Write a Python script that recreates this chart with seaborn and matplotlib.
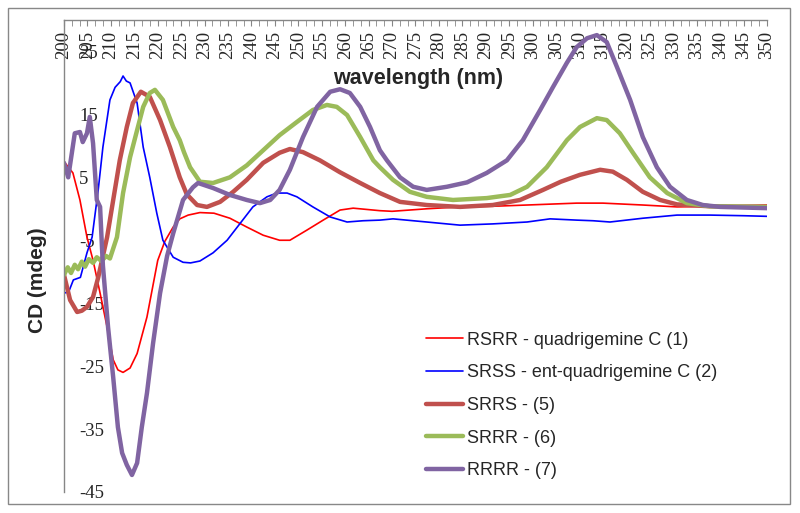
import matplotlib
matplotlib.use('Agg')
import matplotlib.pyplot as plt
import seaborn as sns
import pandas as pd
from matplotlib.ticker import MultipleLocator
from matplotlib.patches import Rectangle

# values, wavelength (nm) / CD (mdeg)
wl_1 = [200, 201.9, 203.4, 204.9, 206.2, 207.7, 209.2, 210.5, 211.5, 212.6, 214.1, 215.6, 217.7,
        220, 221.5, 223.3, 224.7, 226.5, 229, 232, 235.4, 239, 242.5, 246, 248.2, 251.8, 255.3,
        258.9, 261.7, 267.4, 270, 277.4, 284.5, 291.5, 298.8, 309.4, 315, 323.5, 330.8, 340, 350]
cd_1 = [7.5, 5.7, 1.4, -4.5, -8.2, -13.4, -18.8, -24, -25.6, -26, -25.3, -23, -17.2,
        -8.2, -5.2, -2.9, -1.6, -1.0, -0.6, -0.7, -1.5, -2.9, -4.2, -5.0, -5.0, -3.4, -1.8,
        -0.2, 0.1, -0.3, -0.4, 0, 0.3, 0.4, 0.6, 0.9, 0.9, 0.6, 0.3, 0.4, 0.6]

wl_2 = [200, 201, 202, 203.5, 204.9, 206, 207.3, 208.3, 209.8, 210.9, 212, 212.6, 213.3, 214.1,
        215.6, 216.9, 218.3, 219.8, 221.1, 223.3, 225.4, 227, 229, 231.8, 234.8, 237.6, 240.3,
        243.3, 245.4, 247.6, 249.7, 253.1, 256.8, 260.4, 263.8, 267.4, 270.2, 277.4, 284.5,
        291.5, 298.8, 303.7, 309.4, 312.9, 316.5, 323.5, 330.8, 337.8, 345, 350]
cd_2 = [-13.4, -13.2, -11.3, -10.9, -7, -4.5, 3, 9.8, 17.3, 19.3, 20.2, 21.1, 20.3, 20.0,
        16.8, 9.8, 5.0, -0.7, -5, -7.7, -8.5, -8.6, -8.3, -7, -5, -2.3, 0.3,
        1.9, 2.5, 2.5, 1.9, 0.3, -1.3, -2.1, -1.9, -1.8, -1.6, -2.1, -2.6,
        -2.4, -2.1, -1.6, -1.8, -1.9, -2.1, -1.5, -1.0, -1.0, -1.1, -1.2]

wl_5 = [200, 201.3, 202.8, 203.8, 204.9, 206.2, 207.3, 209.2, 210.5, 211.9, 213.4, 214.7, 216.4,
        218.3, 220.5, 222.6, 224.7, 226.2, 228.4, 230.5, 233.3, 236.1, 239, 242.5, 246, 248.2,
        251, 254.6, 258.9, 263.2, 267.4, 271.7, 277.4, 284.5, 291.5, 297.3, 302.2, 306, 310.1,
        314.4, 317.1, 320.1, 323.5, 327.2, 330.8, 337.8, 350]
cd_5 = [-10.5, -14.5, -16.4, -16.2, -15.6, -14, -10.9, -4.5, 1.4, 7.7, 13, 16.8, 18.6,
        17.8, 14.1, 9.8, 5.0, 2.3, 0.6, 0.3, 1.1, 2.7, 4.6, 7.3, 8.9, 9.5,
        9.0, 7.7, 5.8, 4.1, 2.5, 1.1, 0.6, 0.3, 0.6, 1.4, 3.0, 4.3, 5.4,
        6.2, 5.9, 4.6, 2.7, 1.4, 0.7, 0.4, 0.3]

wl_6 = [200, 200.8, 201.5, 202.3, 203, 203.8, 204.5, 205.3, 206.2, 207, 208, 209, 209.8, 211.3,
        212.6, 214.1, 215.6, 216.9, 218.3, 219.4, 221.1, 223.3, 224.7, 225.6, 226.9, 229, 231.8,
        235.4, 239, 242.5, 246, 249.7, 253.1, 256.1, 258.2, 260.4, 263.2, 266, 267.4, 270.2,
        273.8, 277.4, 283, 290.2, 295.2, 298.8, 303, 307.3, 310.1, 313.7, 315.8, 318.6, 321.4,
        325, 328.7, 332.9, 337.8, 350]
cd_6 = [-10.5, -9.3, -10.2, -8.9, -9.6, -8.4, -9.2, -8.0, -8.6, -7.7, -8.3, -7.5, -7.9, -4.5,
        2.5, 8.2, 12.5, 16.2, 18.4, 18.9, 17.3, 13, 10.9, 9.0, 6.6, 4.3, 4.1,
        5.0, 6.9, 9.3, 11.7, 13.8, 15.7, 16.5, 16.2, 14.9, 11.4, 7.7, 6.6, 4.6,
        2.7, 1.9, 1.4, 1.7, 2.2, 3.5, 6.6, 10.9, 13, 14.4, 14.1, 12, 8.9,
        5.0, 2.5, 0.9, 0.4, 0.3]

wl_7 = [200, 200.9, 202.3, 203.4, 204, 204.9, 205.5, 206.2, 207, 207.7, 208.1, 208.3, 209.4,
        210.5, 211.5, 212.4, 213.4, 214.5, 215.6, 216.6, 217.7, 219, 220.5, 222, 223.3, 225.4,
        227.5, 228.6, 231.8, 235.4, 239, 241.8, 244, 246, 248.2, 251, 254, 256.8, 258.9, 261,
        263.2, 265.3, 267.4, 268.9, 271.7, 274.5, 277.4, 281.7, 286, 290.2, 294.5, 297.9, 301.6,
        304.3, 307.3, 309.4, 311.6, 313.7, 315.8, 318, 320.8, 323.5, 326.5, 329.3, 332.9, 336.3,
        340, 350]
cd_7 = [7.3, 5.0, 12, 12.2, 10.6, 12, 14.6, 10.4, 1.4, 0.3, -6.1, -9, -18.8,
        -26.8, -34.7, -38.8, -40.7, -42.3, -40.4, -34.7, -29.3, -21.4, -13.4, -7.5, -3.9, 1.4,
        3.4, 4.1, 3.3, 2.2, 1.4, 0.9, 1.4, 3.0, 6.2, 11.4, 16.2, 18.6, 19.0, 18.4,
        16.2, 13, 9.3, 7.7, 5.0, 3.5, 3.0, 3.5, 4.2, 5.7, 7.7, 10.9, 15.7,
        19.3, 23.2, 25.7, 27.1, 27.6, 26.5, 22.5, 17.3, 11.4, 6.6, 3.5, 1.4, 0.6,
        0.3, 0.1]

labels = ['RSRR - quadrigemine C (1)', 'SRSS - ent-quadrigemine C (2)',
          'SRRS - (5)', 'SRRR - (6)', 'RRRR - (7)']
colors = ['#FF0000', '#0000FF', '#C0504D', '#9BBB59', '#8064A2']
widths = [1.2, 1.2, 3.2, 3.2, 3.2]

sns.set_style('white')
plt.rcParams['font.family'] = ['Liberation Sans', 'DejaVu Sans']
plt.rcParams['axes.unicode_minus'] = False

fig = plt.figure(figsize=(8, 5.13), dpi=100)
ax = fig.add_axes([0.08, 0.041, 0.87875, 0.92])

series = [(wl_1, cd_1), (wl_2, cd_2), (wl_5, cd_5), (wl_6, cd_6), (wl_7, cd_7)]
for (wl, cd), lab, col, lw in zip(series, labels, colors, widths):
    df = pd.DataFrame({'wavelength': wl, 'cd': cd})
    sns.lineplot(data=df, x='wavelength', y='cd', ax=ax, color=col, linewidth=lw,
                 label=lab, solid_joinstyle='round', solid_capstyle='round')

ax.set_xlim(200, 350)
ax.set_ylim(-45, 30)

# x axis on top, labels hang inside the plot
ax.xaxis.tick_top()
ax.xaxis.set_major_locator(MultipleLocator(5))
ax.xaxis.set_minor_locator(MultipleLocator(5 / 3))
ax.tick_params(axis='x', which='both', direction='in', length=4, color='#868686',
               labelrotation=90, pad=-28, labelsize=13.5)
for t in ax.get_xticklabels():
    t.set_family(['Liberation Serif', 'DejaVu Serif'])

ax.set_yticks([-45, -35, -25, -15, -5, 5, 15, 25])
ax.tick_params(axis='y', direction='out', length=4, color='#868686', pad=-15,
               labelsize=13.5)
for t in ax.get_yticklabels():
    t.set_horizontalalignment('left')
    t.set_family(['Liberation Serif', 'DejaVu Serif'])

for s in ['bottom', 'right']:
    ax.spines[s].set_visible(False)
for s in ['left', 'top']:
    ax.spines[s].set_color('#868686')
    ax.spines[s].set_linewidth(1)

ax.set_xlabel('wavelength (nm)', fontsize=15.5, fontweight='bold')
ax.xaxis.set_label_coords(0.5036, 0.877)
ax.xaxis.label.set_verticalalignment('center')
ax.set_ylabel('CD (mdeg)', fontsize=15, fontweight='bold')
ax.yaxis.set_label_coords(-0.024, 0.449)

ax.legend(loc='upper left', bbox_to_anchor=(0.515, 0.34), frameon=False,
          fontsize=13, handlelength=2.05, handletextpad=0.2, labelspacing=0.87,
          borderaxespad=0, borderpad=0)

fig.patches.append(Rectangle((0.01, 0.0175), 0.9775, 0.967, transform=fig.transFigure,
                             fill=False, edgecolor='#888888', linewidth=1))

fig.savefig('out.png', dpi=100)
